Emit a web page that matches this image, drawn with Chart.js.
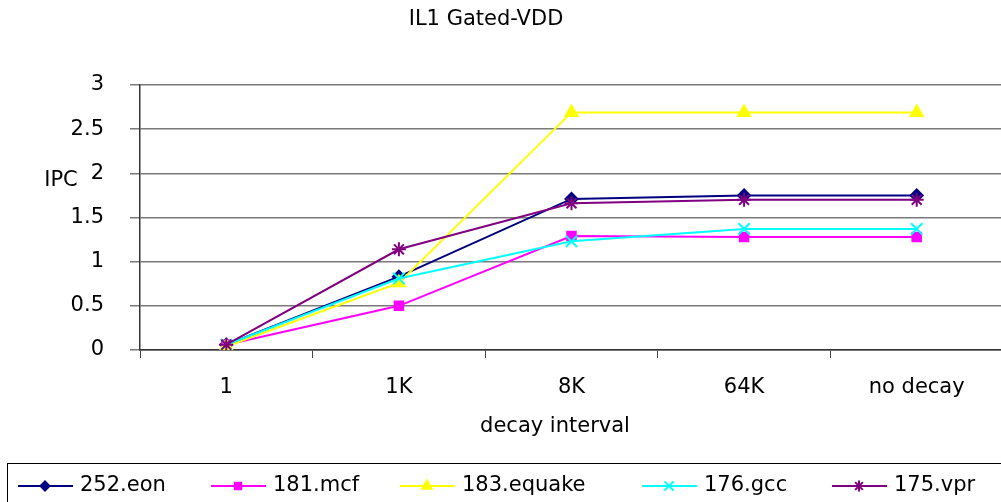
<!DOCTYPE html>
<html>
<head>
<meta charset="utf-8">
<script src="https://cdn.jsdelivr.net/npm/chart.js@4/dist/chart.umd.min.js"></script>
<style>
  html, body { margin:0; padding:0; background:#fff; overflow:hidden; }
  /* a bit wider than the window: the plot runs to the right edge like the original */
  #wrap { width:1013px; height:502px; position:relative; }
</style>
</head>
<body>
<div id="wrap"><canvas id="ipcChart"></canvas></div>
<script>
'use strict';

// ---- data ----
const intervals = ['1', '1K', '8K', '64K', 'no decay'];
const eon    = [0.06, 0.83, 1.71, 1.75, 1.75];
const mcf    = [0.06, 0.50, 1.29, 1.28, 1.28];
const equake = [0.04, 0.76, 2.69, 2.69, 2.69];
const gcc    = [0.06, 0.81, 1.23, 1.37, 1.37];
const vpr    = [0.06, 1.14, 1.66, 1.70, 1.70];
const yTicks = [0, 0.5, 1, 1.5, 2, 2.5, 3];

const FONT = "'DejaVu Sans', sans-serif";
const FSIZE = 21;

const series = [
  { label:'252.eon',    data:eon,    color:'#000080', style:'rectRot',  r:6, lw:2 },
  { label:'181.mcf',    data:mcf,    color:'#ff00ff', style:'rect',     r:6, lw:2 },
  { label:'183.equake', data:equake, color:'#ffff00', style:'triangle', r:7, lw:2 },
  { label:'176.gcc',    data:gcc,    color:'#00ffff', style:'crossRot', r:8, lw:2 },
  { label:'175.vpr',    data:vpr,    color:'#800080', style:'star',     r:7, lw:2 }
];

// ---- texts + legend drawn by hand (Excel style) ----
const decor = {
  id: 'decor',
  afterDraw(chart) {
    const ctx = chart.ctx;
    ctx.save();
    ctx.fillStyle = '#000';
    ctx.font = `${FSIZE}px ${FONT}`;
    ctx.textBaseline = 'middle';
    ctx.textAlign = 'center';
    ctx.fillText('IL1 Gated-VDD', 486, 20);
    ctx.fillText('IPC', 61, 181);
    ctx.fillText('decay interval', 555, 427);

    // legend box
    ctx.strokeStyle = '#000';
    ctx.lineWidth = 1;
    ctx.strokeRect(7.5, 463.5, 1020, 60);

    const starts = [18, 211, 400, 642, 832];
    const ly = 486;
    ctx.textAlign = 'left';
    chart.data.datasets.forEach((ds, i) => {
      const x0 = starts[i];
      ctx.strokeStyle = ds.borderColor;
      ctx.lineWidth = 2;
      ctx.beginPath(); ctx.moveTo(x0, ly); ctx.lineTo(x0 + 55, ly); ctx.stroke();
      ctx.fillStyle = ds.pointBackgroundColor;
      ctx.strokeStyle = ds.pointBorderColor;
      Chart.helpers.drawPoint(ctx, { pointStyle: ds.pointStyle, radius: ds.pointRadius - 1.5, rotation: 0, borderWidth: ds.pointBorderWidth }, x0 + 27, ly);
      ctx.fillStyle = '#000';
      ctx.fillText(ds.label, x0 + 62, ly);
    });
    ctx.restore();
  }
};

new Chart(document.getElementById('ipcChart').getContext('2d'), {
  type: 'line',
  data: {
    labels: intervals,
    datasets: series.map((s, i) => ({
      label: s.label, data: s.data,
      borderColor: s.color, backgroundColor: s.color,
      pointBackgroundColor: s.color, pointBorderColor: s.color,
      pointStyle: s.style, pointRadius: s.r, pointBorderWidth: s.lw,
      borderWidth: 2, tension: 0, fill: false,
      order: series.length - i
    }))
  },
  options: {
    responsive: true, maintainAspectRatio: false, animation: false,
    layout: { padding: { top: 85, right: 0, left: 0, bottom: 0 } },
    plugins: { legend: { display: false }, title: { display: false }, tooltip: { enabled: false } },
    scales: {
      x: {
        type: 'category', offset: true,
        afterFit: s => { s.height = 152; s.paddingLeft = 0; s.paddingRight = 0; },
        grid: { offset: true, drawOnChartArea: false, drawTicks: true, tickLength: 8, color: '#444', lineWidth: 1 },
        border: { display: true, color: '#333', width: 1.5 },
        ticks: { color: '#000', font: { family: FONT, size: FSIZE }, padding: 17, maxRotation: 0 }
      },
      y: {
        min: 0, max: 3,
        afterFit: s => { s.width = 140; s.paddingTop = 0; s.paddingBottom = 0; },
        afterBuildTicks: s => { s.ticks = yTicks.map(v => ({ value: v })); },
        grid: { color: '#7a7a7a', lineWidth: 1.5, drawTicks: true, tickLength: 10 },
        border: { display: true, color: '#333', width: 1.5 },
        ticks: { color: '#000', font: { family: FONT, size: FSIZE }, padding: 26, callback: v => String(v) }
      }
    }
  },
  plugins: [decor]
});
</script>
</body>
</html>
